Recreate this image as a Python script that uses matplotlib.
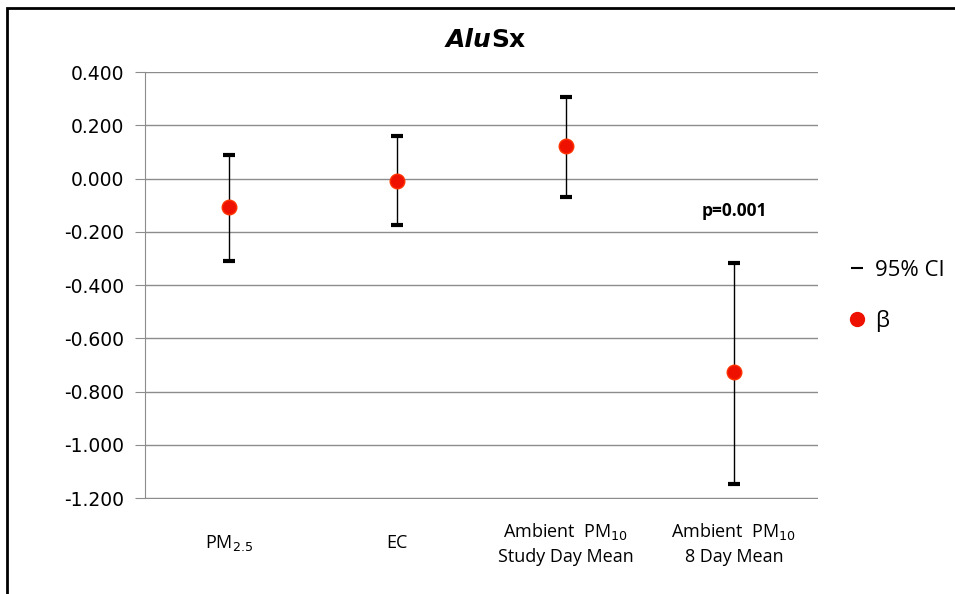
import matplotlib.pyplot as plt
from matplotlib.lines import Line2D
from matplotlib.patches import Rectangle

categories = ["PM$_{2.5}$", "EC", "Ambient  PM$_{10}$\nStudy Day Mean", "Ambient  PM$_{10}$\n8 Day Mean"]
beta = [-0.106, -0.008, 0.123, -0.728]
ci_upper = [0.089, 0.160, 0.306, -0.316]
ci_lower = [-0.308, -0.173, -0.068, -1.147]
yticks = [0.4, 0.2, 0.0, -0.2, -0.4, -0.6, -0.8, -1.0, -1.2]

W, H = 955, 594
fig = plt.figure(figsize=(W / 100, H / 100), dpi=100)
ax = fig.add_axes([145 / W, 1 - 499 / H, (818 - 145) / W, (499 - 72) / H])

x = [i + 0.5 for i in range(len(categories))]

# CI whiskers with thick short caps
ax.vlines(x, ci_lower, ci_upper, color="black", lw=1, zorder=3)
ax.scatter(x, ci_upper, marker="_", s=80, lw=3, color="black", zorder=4)
ax.scatter(x, ci_lower, marker="_", s=80, lw=3, color="black", zorder=4)
ax.scatter(x, beta, s=110, color="#ee1100", edgecolors="#ff3300", zorder=5)

ax.set_xlim(0, 4)
ax.set_ylim(-1.203, 0.4)
ax.set_yticks(yticks)
ax.set_yticklabels([f"{v:.3f}" for v in yticks], fontsize=13.5, family="DejaVu Sans")
ax.yaxis.grid(True, color="#8c8c8c", lw=1)
ax.set_axisbelow(True)
ax.tick_params(axis="y", length=7, color="#8c8c8c", pad=8)
ax.tick_params(axis="x", length=0, pad=32)
ax.set_xticks(x)
ax.set_xticklabels(categories, fontsize=13, family="Open Sans", linespacing=1.4,
                   va="center")
for s in ["top", "right", "bottom"]:
    ax.spines[s].set_visible(False)
ax.spines["left"].set_color("#8c8c8c")
ax.spines["left"].set_bounds(-1.2, 0.4)

ax.text(3.5, -0.12, "p=0.001", ha="center", va="center", fontsize=12.5,
        fontweight="bold", family="Open Sans")

# title: italic "Alu" + upright "Sx", both bold
t1 = fig.text(446 / W, 1 - 40 / H, "Alu", ha="left", va="center", fontsize=18,
              fontweight="bold", style="italic", family="DejaVu Sans")
fig.canvas.draw()
bb = t1.get_window_extent()
fig.text((bb.x1 - 1) / W, 1 - 40 / H, "Sx", ha="left", va="center", fontsize=18,
         fontweight="bold", family="DejaVu Sans")

handles = [
    Line2D([], [], color="black", marker="_", ls="none", ms=8, mew=1.5),
    Line2D([], [], color="#ee1100", marker="o", ls="none", ms=10),
]
fig.legend(handles, ["95% CI", "β"], loc="center left",
           bbox_to_anchor=(828 / W, 1 - 296 / H), frameon=False,
           handlelength=0.8, handletextpad=0.4, labelspacing=1.3,
           prop={"family": "Open Sans", "size": 16})

fig.patches.append(Rectangle((7 / W, -0.1), 1.2, 1 - 8 / H + 0.1,
                             transform=fig.transFigure, fill=False,
                             edgecolor="black", lw=2))

fig.savefig("out.png", dpi=100)
